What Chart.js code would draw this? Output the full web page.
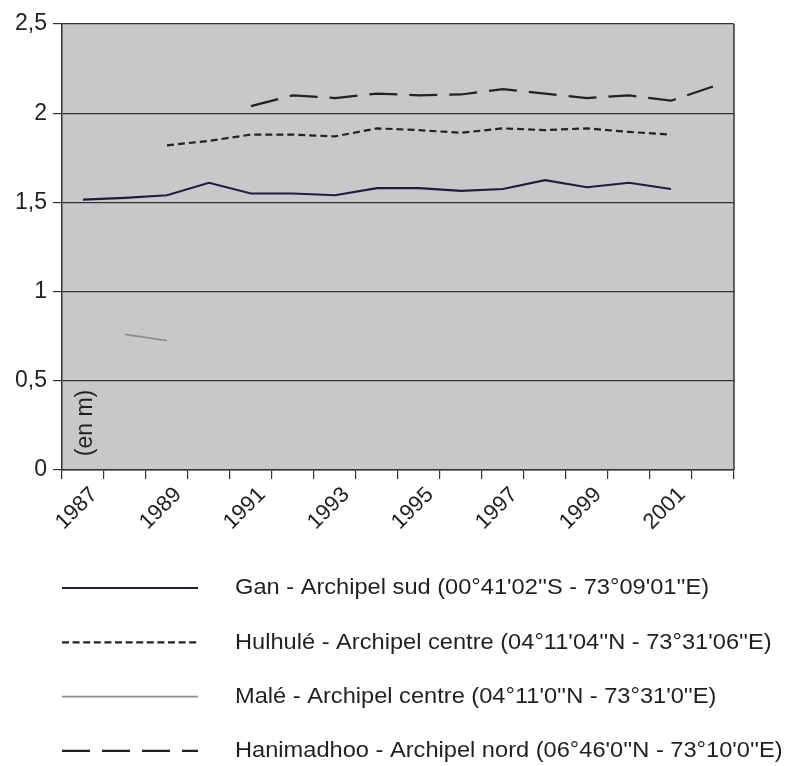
<!DOCTYPE html>
<html>
<head>
<meta charset="utf-8">
<script src="https://cdn.jsdelivr.net/npm/chart.js@4"></script>
<style>
  body { margin: 0; background: #fff; }
</style>
</head>
<body>
<canvas id="grafico" width="787" height="766"></canvas>
<script>
const annees = ['1987', '1988', '1989', '1990', '1991', '1992', '1993', '1994', '1995', '1996', '1997', '1998', '1999', '2000', '2001', '2002'];
const gan = [1.515, 1.525, 1.54, 1.61, 1.55, 1.55, 1.54, 1.58, 1.58, 1.565, 1.575, 1.625, 1.585, 1.61, 1.575, null];
const hulhule = [null, null, 1.82, 1.845, 1.88, 1.88, 1.87, 1.915, 1.905, 1.89, 1.915, 1.905, 1.915, 1.895, 1.88, null];
const male = [null, 0.76, 0.725, null, null, null, null, null, null, null, null, null, null, null, null, null];
const hanimadhoo = [null, null, null, null, 2.04, 2.10, 2.085, 2.11, 2.10, 2.105, 2.135, 2.11, 2.085, 2.10, 2.07, 2.15];
const ticksY = [0, 0.5, 1, 1.5, 2, 2.5];

const noms = [
    "Gan - Archipel sud (00°41'02''S - 73°09'01''E)",
    "Hulhulé - Archipel centre (04°11'04''N - 73°31'06''E)",
    "Malé - Archipel centre (04°11'0''N - 73°31'0''E)",
    "Hanimadhoo - Archipel nord (06°46'0''N - 73°10'0''E)"
];

const police = '"Liberation Sans", Arial, Helvetica, sans-serif';
const texte = '#231f20';
const trait = '#333333';

// fond gris, bord droit, unite et legende dessines a la main
const decor = {
    id: 'decor',
    beforeDraw(chart) {
        const { ctx, chartArea: a } = chart;
        ctx.save();
        ctx.fillStyle = '#c7c8ca';
        ctx.fillRect(a.left, a.top, a.right - a.left, a.bottom - a.top);
        ctx.restore();
    },
    afterDraw(chart) {
        const { ctx, chartArea: a } = chart;
        ctx.save();
        ctx.strokeStyle = trait;
        ctx.lineWidth = 1.5;
        ctx.beginPath();
        ctx.moveTo(a.right, a.top);
        ctx.lineTo(a.right, a.bottom);
        ctx.stroke();

        // "(en m)" dans la zone du graphique
        ctx.fillStyle = texte;
        ctx.font = '23px ' + police;
        ctx.textAlign = 'center';
        ctx.textBaseline = 'middle';
        ctx.translate(a.left + 24, 423);
        ctx.rotate(-Math.PI / 2);
        ctx.fillText('(en m)', 0, 0);
        ctx.restore();

        // legende en colonne sous le graphique
        chart.data.datasets.forEach((ds, i) => {
            const y = 588 + i * 54.3;
            ctx.save();
            ctx.strokeStyle = ds.borderColor;
            ctx.lineWidth = ds.borderWidth;
            ctx.setLineDash(ds.legendDash || ds.borderDash || []);
            ctx.beginPath();
            ctx.moveTo(62, y);
            ctx.lineTo(198, y);
            ctx.stroke();
            ctx.setLineDash([]);
            ctx.fillStyle = texte;
            ctx.font = '22.5px ' + police;
            ctx.textAlign = 'left';
            ctx.textBaseline = 'middle';
            ctx.translate(235, y);
            ctx.scale(1.05, 1);
            ctx.fillText(ds.label, 0, 0);
            ctx.restore();
        });
    }
};

const ctx = document.getElementById('grafico').getContext('2d');
const chart = new Chart(ctx, {
    type: 'line',
    data: {
        labels: annees,
        datasets: [{
            label: noms[0],
            data: gan,
            borderColor: '#1f1d3a',
            borderWidth: 2.2,
            pointRadius: 0,
            tension: 0,
            fill: false
        }, {
            label: noms[1],
            data: hulhule,
            borderColor: '#222222',
            borderWidth: 2.2,
            borderDash: [7, 4],
            legendDash: [7, 3.6],
            pointRadius: 0,
            tension: 0,
            fill: false
        }, {
            label: noms[2],
            data: male,
            borderColor: '#8e8e8e',
            borderWidth: 1.8,
            pointRadius: 0,
            tension: 0,
            fill: false
        }, {
            label: noms[3],
            data: hanimadhoo,
            borderColor: '#222222',
            borderWidth: 2.2,
            borderDash: [28, 12],
            pointRadius: 0,
            tension: 0,
            fill: false
        }]
    },
    options: {
        responsive: false,
        animation: false,
        layout: { padding: { top: 24, right: 53, bottom: 206, left: 0 } },
        plugins: {
            legend: { display: false },
            tooltip: { enabled: false }
        },
        scales: {
            x: {
                offset: true,
                grid: { offset: true, drawOnChartArea: false, drawTicks: true, tickLength: 9, color: trait, lineWidth: 1.2 },
                border: { color: trait, width: 1.5 },
                ticks: {
                    autoSkip: false,
                    minRotation: 45,
                    maxRotation: 45,
                    padding: 3,
                    labelOffset: 11,
                    color: texte,
                    font: { family: police, size: 22 },
                    callback: (v, i) => (i % 2 === 0 ? annees[i] : '')
                },
                afterFit(scale) { scale.height = 90; }
            },
            y: {
                min: ticksY[0],
                max: ticksY[ticksY.length - 1],
                afterBuildTicks(scale) { scale.ticks = ticksY.map(v => ({ value: v })); },
                grid: { color: trait, lineWidth: 1.2, tickLength: 9 },
                border: { color: trait, width: 1.5 },
                ticks: {
                    padding: 6,
                    color: texte,
                    font: { family: police, size: 23 },
                    callback: v => String(v).replace('.', ',')
                },
                afterFit(scale) { scale.width = 62; }
            }
        }
    },
    plugins: [decor]
});
</script>
</body>
</html>
